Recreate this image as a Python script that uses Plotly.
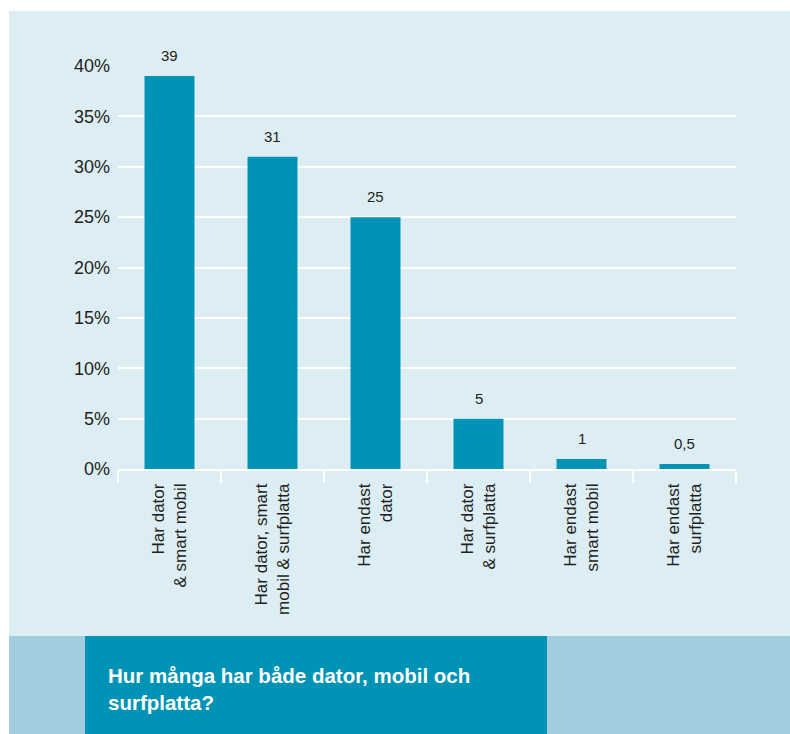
import plotly.graph_objects as go

# Data
categories = [
    "Har dator<br>& smart mobil",
    "Har dator, smart<br>mobil & surfplatta",
    "Har endast<br>dator",
    "Har dator<br>& surfplatta",
    "Har endast<br>smart mobil",
    "Har endast<br>surfplatta",
]
values = [39, 31, 25, 5, 1, 0.5]
value_labels = ["39", "31", "25", "5", "1", "0,5"]
y_ticks = [0, 5, 10, 15, 20, 25, 30, 35, 40]
y_ticktext = [f"{v}%" for v in y_ticks]
title_text = "Hur många har både dator, mobil och<br>surfplatta?"

bar_color = "#0093b5"
panel_color = "#ddedf4"
band_color = "#a2cde0"
text_color = "#231f20"
font_family = "Liberation Sans, Arial, sans-serif"

fig = go.Figure(go.Bar(
    x=categories,
    y=values,
    marker=dict(color=bar_color, line=dict(width=0)),
    width=0.485,
))

# value labels above bars
for c, v, t in zip(categories, values, value_labels):
    fig.add_annotation(x=c, y=v, text=t, showarrow=False, yanchor="bottom",
                       yshift=10, font=dict(size=15, color=text_color, family=font_family))

# plot area spans x 118-736, y 66-469 px
W, H = 790, 734
L, T, R, B = 118, 66, 790 - 736, 734 - 469
pw, ph = W - L - R, H - T - B
def px(x): return (x - L) / pw
def py(y): return (H - B - y) / ph

fig.add_shape(type="rect", xref="paper", yref="paper", layer="below",
              x0=px(9), x1=px(792), y0=py(636), y1=py(11),
              fillcolor=panel_color, line=dict(width=0))
fig.add_shape(type="rect", xref="paper", yref="paper", layer="below",
              x0=px(9), x1=px(792), y0=py(736), y1=py(636),
              fillcolor=band_color, line=dict(width=0))
fig.add_shape(type="rect", xref="paper", yref="paper", layer="below",
              x0=px(85), x1=px(547), y0=py(736), y1=py(636),
              fillcolor=bar_color, line=dict(width=0))
fig.add_annotation(xref="paper", yref="paper", x=px(106), y=py(662),
                   xanchor="left", yanchor="top", align="left", showarrow=False,
                   text=f"<b>{title_text}</b>",
                   font=dict(size=20.5, color="white", family=font_family))

fig.update_layout(
    width=W, height=H,
    margin=dict(l=L, r=R, t=T, b=B),
    paper_bgcolor="white",
    plot_bgcolor="rgba(0,0,0,0)",
    showlegend=False,
    font=dict(family=font_family, color=text_color),
)
fig.update_xaxes(
    tickangle=-90, tickson="boundaries", ticks="outside", ticklen=12,
    tickcolor="white", tickwidth=1.5, showline=True, linecolor="white", linewidth=1.5,
    showgrid=False, tickfont=dict(size=17, color=text_color), ticklabelstandoff=6,
)
fig.update_yaxes(
    range=[0, 40], tickvals=y_ticks, ticktext=y_ticktext,
    showgrid=True, gridcolor="white", gridwidth=1.5, zeroline=False,
    tickfont=dict(size=18, color=text_color), ticks="", ticklabelstandoff=7,
)

fig.write_html("out.html", config={"displayModeBar": False},
               post_script="document.body.style.margin='0';document.body.style.overflow='hidden';")
